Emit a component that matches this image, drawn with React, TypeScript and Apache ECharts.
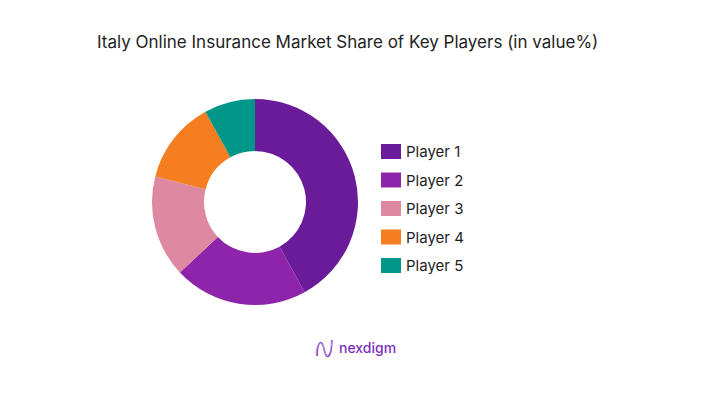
import React, { useEffect, useRef } from "react";
import * as echarts from "echarts";

const categories = ["Player 1", "Player 2", "Player 3", "Player 4", "Player 5"];
const shares = [42, 21, 16, 13, 8];
const colors = ["#6A1B9A", "#8E24AA", "#DE88A2", "#F57F20", "#009688"];
const titleText = "Italy Online Insurance Market Share of Key Players (in value%)";
const brandText = "nexdigm";

echarts.graphic.registerShape(
  "nexLogo",
  echarts.graphic.extendPath(
    "M2 16 C2 4 5 0 7 4 C9 8 9 14 11 16 C13 18 16 14 16 0",
    {}
  )
);
echarts.graphic.registerShape(
  "nexLogo2",
  echarts.graphic.extendPath(
    "M1 14 C2 2 6 1 8 6 C10 11 10 16 13 15 C15 14 16 8 17 1",
    {}
  )
);

export default function App() {
  const ref = useRef<HTMLDivElement>(null);
  useEffect(() => {
    if (!ref.current) return;
    const chart = echarts.init(ref.current, undefined, { renderer: "svg" });
    chart.setOption({
      animation: false,
      backgroundColor: "#ffffff",
      title: {
        text: titleText,
        left: 97,
        top: 33,
        padding: 0,
        textStyle: {
          fontFamily: "Inter",
          fontSize: 17,
          fontWeight: "normal",
          color: "#1e1e1e",
        },
      },
      legend: {
        orient: "vertical",
        left: 381,
        top: 144,
        padding: 0,
        itemWidth: 20,
        itemHeight: 15,
        itemGap: 13.5,
        icon: "rect",
        data: categories,
        textStyle: {
          fontFamily: "Inter",
          fontSize: 15,
          color: "#1e1e1e",
        },
      },
      color: colors,
      series: [
        {
          type: "pie",
          center: [255, 202],
          radius: [51, 103],
          startAngle: 90,
          clockwise: true,
          label: { show: false },
          labelLine: { show: false },
          itemStyle: { borderWidth: 0 },
          emphasis: { disabled: true },
          data: categories.map((name, i) => ({
            name,
            value: shares[i],
            itemStyle: { color: colors[i] },
          })),
        },
      ],
      graphic: [
        {
          type: "nexLogo",
          x: 315,
          y: 340,
          scaleX: 1.05,
          scaleY: 1.0,
          style: { fill: "none", stroke: "#8E44C9", lineWidth: 1.6 },
        },
        {
          type: "nexLogo2",
          x: 315,
          y: 340,
          scaleX: 1.0,
          scaleY: 1.0,
          style: { fill: "none", stroke: "#C39BE0", lineWidth: 1 },
        },
        {
          type: "text",
          x: 339,
          y: 347,
          style: {
            text: brandText,
            fontFamily: "Inter",
            fontSize: 14,
            fontWeight: 500,
            fill: "#7B2FBE",
            verticalAlign: "middle",
          },
        },
      ],
    });
    return () => chart.dispose();
  }, []);
  return (
    <div
      ref={ref}
      style={{ position: "fixed", left: 0, top: 0, width: 708, height: 408 }}
    />
  );
}
